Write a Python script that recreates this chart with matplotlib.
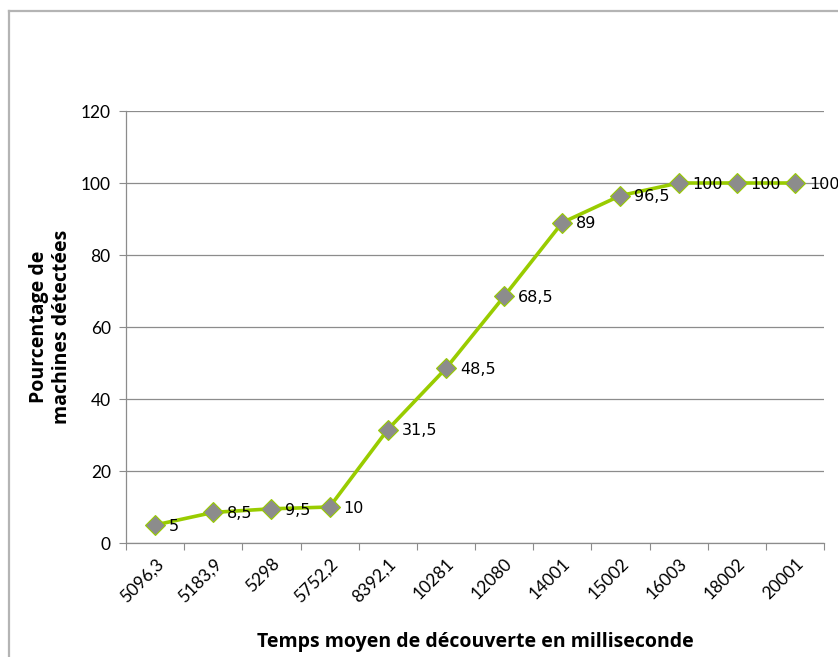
import matplotlib
matplotlib.use("Agg")
import matplotlib.pyplot as plt
from matplotlib.lines import Line2D

categories = ["5096,3", "5183,9", "5298", "5752,2", "8392,1", "10281",
              "12080", "14001", "15002", "16003", "18002", "20001"]
values = [5, 8.5, 9.5, 10, 31.5, 48.5, 68.5, 89, 96.5, 100, 100, 100]
value_labels = ["5", "8,5", "9,5", "10", "31,5", "48,5", "68,5", "89",
                "96,5", "100", "100", "100"]
yticks = [0, 20, 40, 60, 80, 100, 120]

W, H = 838, 657
fig = plt.figure(figsize=(W / 100, H / 100), dpi=100)
fig.patch.set_facecolor("white")

# outer chart border (top and left visible)
fig.add_artist(Line2D([9 / W, 9 / W], [0, 1 - 11 / H], transform=fig.transFigure,
                      color="#b4b4b4", lw=1.6))
fig.add_artist(Line2D([9 / W, 1], [1 - 11 / H, 1 - 11 / H], transform=fig.transFigure,
                      color="#b4b4b4", lw=1.6))

left, right, top, bottom = 126, 824, 111, 543
ax = fig.add_axes([left / W, 1 - bottom / H, (right - left) / W, (bottom - top) / H])

x = list(range(len(categories)))
ax.plot(x, values, color="#99cc00", lw=2.6, marker="D", markersize=10,
        markerfacecolor="#8c8c8c", markeredgecolor="#99cc00", markeredgewidth=0.8,
        zorder=3)

for xi, v, lab in zip(x, values, value_labels):
    ax.annotate(lab, (xi, v), xytext=(10, -1), textcoords="offset points",
                ha="left", va="center", fontsize=11.5, family="DejaVu Sans",
                color="#000000", zorder=4)

ax.set_xlim(-0.5, len(categories) - 0.5)
ax.set_ylim(0, 120)
ax.set_yticks(yticks)
ax.set_yticklabels([str(t) for t in yticks], family="Lato", fontsize=12.5)
ax.grid(axis="y", color="#8c8c8c", lw=0.9)
ax.set_axisbelow(True)

# category boundaries as major ticks, labels at category centres
ax.set_xticks([i - 0.5 for i in range(len(categories) + 1)])
ax.set_xticklabels([])
ax.set_xticks(x, minor=True)
ax.set_xticklabels(categories, minor=True, rotation=45, ha="right",
                   rotation_mode="anchor", family="Lato", fontsize=12.5)
ax.tick_params(axis="x", which="major", length=5, color="#8c8c8c", direction="out")
ax.tick_params(axis="x", which="minor", length=0, pad=9)
ax.tick_params(axis="y", length=5, color="#8c8c8c", pad=6)

for s in ["top", "right"]:
    ax.spines[s].set_visible(False)
for s in ["left", "bottom"]:
    ax.spines[s].set_color("#8c8c8c")
    ax.spines[s].set_linewidth(0.9)

ax.set_xlabel("Temps moyen de découverte en milliseconde", family="Open Sans",
              fontweight="bold", fontsize=14, labelpad=19)
ax.set_ylabel("Pourcentage de\nmachines détectées", family="Open Sans",
              fontweight="bold", fontsize=14, labelpad=6, linespacing=1.2)

fig.savefig("out.png", dpi=100, facecolor="white")
